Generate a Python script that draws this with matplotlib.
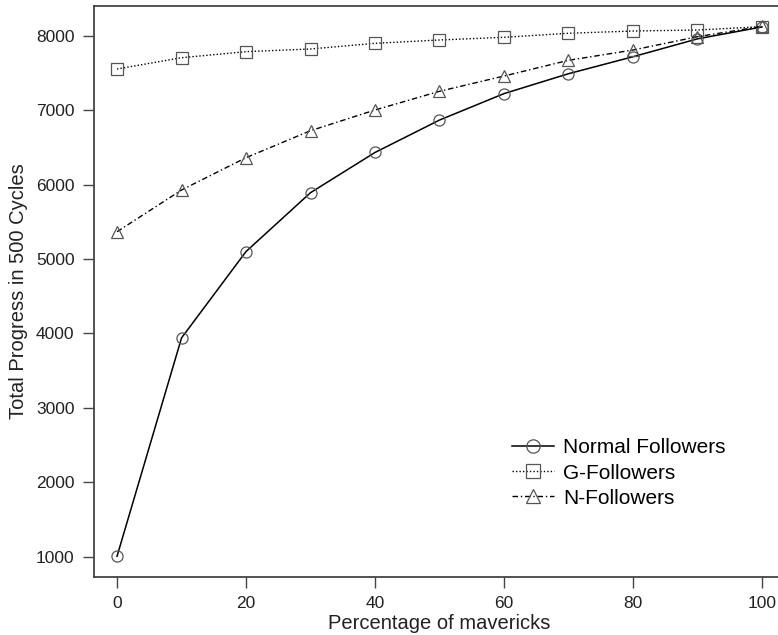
import matplotlib
matplotlib.use("Agg")
import matplotlib.pyplot as plt

plt.rcParams['font.family'] = ['Liberation Sans', 'DejaVu Sans']

x = [0, 10, 20, 30, 40, 50, 60, 70, 80, 90, 100]
normal = [1010, 3940, 5100, 5890, 6430, 6865, 7220, 7487, 7715, 7955, 8115]
g_follow = [7550, 7702, 7783, 7819, 7895, 7940, 7976, 8030, 8060, 8074, 8118]
n_follow = [5366, 5926, 6360, 6722, 7000, 7251, 7456, 7667, 7805, 7984, 8122]

xticks = [0, 20, 40, 60, 80, 100]
yticks = [1000, 2000, 3000, 4000, 5000, 6000, 7000, 8000]

W, H = 778, 635
fig = plt.figure(figsize=(W / 100, H / 100), dpi=100)
left, right, top, bottom = 94, 785, 6, 577
ax = fig.add_axes([left / W, 1 - bottom / H, (right - left) / W, (bottom - top) / H])

mk = dict(markersize=8, markerfacecolor='none', markeredgecolor='#555555', markeredgewidth=0.9)
ax.plot(x, normal, color='black', linestyle='-', linewidth=1.1, marker='o', label='Normal Followers', **mk)
ax.plot(x, g_follow, color='black', linestyle=(0, (1, 1.5)), linewidth=1.0, marker='s', label='G-Followers', **mk)
ax.plot(x, n_follow, color='black', linestyle=(0, (4, 2, 1, 2)), linewidth=1.0, marker='^', label='N-Followers', **mk)

ax.set_xlim(-3.57, 103.57)
ax.set_ylim(731.5, 8396)
ax.set_xticks(xticks)
ax.set_yticks(yticks)
ax.tick_params(axis='both', length=8, width=1.0, color='#444444', labelsize=12.5, labelcolor='#222222', pad=6)
for s in ax.spines.values():
    s.set_color('#444444')
    s.set_linewidth(1.3)
ax.spines['right'].set_visible(False)

ax.set_xlabel('Percentage of mavericks', fontsize=14.5, color='#222222', labelpad=2)
ax.set_ylabel('Total Progress in 500 Cycles', fontsize=14.5, color='#222222', labelpad=6)

leg = ax.legend(loc='center left', bbox_to_anchor=(418 / (right - left), 1 - (473 - top) / (bottom - top)),
                frameon=False, fontsize=15, handlelength=2.0, handletextpad=0.45, labelspacing=0.3,
                borderpad=0, borderaxespad=0, markerscale=1.2)

fig.savefig('out.png', dpi=100)
